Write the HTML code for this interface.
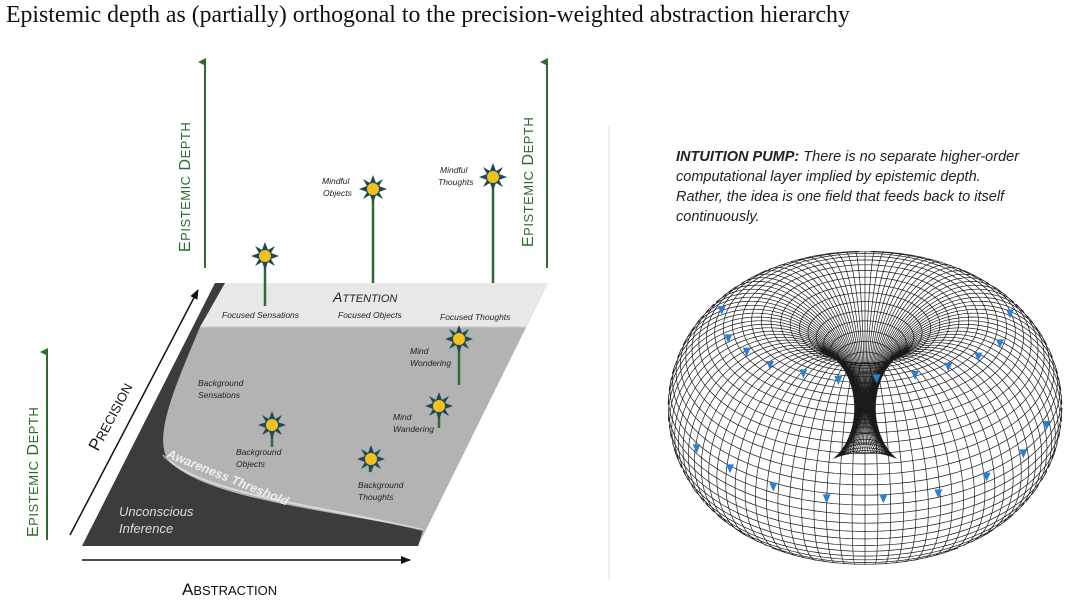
<!DOCTYPE html>
<html><head><meta charset="utf-8"><style>
body{margin:0;width:1080px;height:606px;background:#fff;overflow:hidden;font-family:"Liberation Sans",sans-serif}
</style></head><body>
<svg width="1080" height="606" viewBox="0 0 1080 606" xmlns="http://www.w3.org/2000/svg">
<defs>
<marker id="ga" markerWidth="8" markerHeight="8" refX="4" refY="7" orient="auto-start-reverse" markerUnits="userSpaceOnUse"><path d="M0,8 L4,0 L8,8 Z" fill="#2e6b2e"/></marker>
<marker id="ka" markerWidth="10" markerHeight="8" refX="9" refY="4" orient="auto" markerUnits="userSpaceOnUse"><path d="M0,0 L10,4 L0,8 Z" fill="#111"/></marker>
<g id="star"><path d="M0,-14 L3,-6 L10,-10 L6,-3 L14,0 L6,3 L10,10 L3,6 L0,14 L-3,6 L-10,10 L-6,3 L-14,0 L-6,-3 L-10,-10 L-3,-6 Z" fill="#1f4a55"/><circle r="6.5" fill="#f2c11b" stroke="#1f4a55" stroke-width="1"/></g>
</defs>
<text x="6" y="22" font-family="Liberation Serif,serif" font-size="23.8" fill="#111">Epistemic depth as (partially) orthogonal to the precision-weighted abstraction hierarchy</text>

<path d="M215,283 L548,283 L418,546 L82,546 Z" fill="#b3b3b3"/>
<path d="M215,283 L548,283 L526,327 L200,327 Z" fill="#e8e8e8"/>
<path d="M215,283 L225,283 L200,327 C178,380 150,440 170,462 C210,500 330,510 423,530 L418,546 L82,546 Z" fill="#3c3c3c"/>
<path d="M163,455 C200,495 320,505 423,530" stroke="#fff" stroke-width="2" fill="none" opacity="0.5"/>
<line x1="200" y1="327" x2="526" y2="327" stroke="#ccc" stroke-width="1"/>

<line x1="205" y1="268" x2="205" y2="62" stroke="#2e6b2e" stroke-width="2" marker-end="url(#ga)"/>
<line x1="547" y1="268" x2="547" y2="62" stroke="#2e6b2e" stroke-width="2" marker-end="url(#ga)"/>
<line x1="47" y1="540" x2="47" y2="352" stroke="#2e6b2e" stroke-width="2" marker-end="url(#ga)"/>
<g fill="#2e6b2e" font-size="16" letter-spacing="0.5">
<text transform="translate(190,252) rotate(-90)">E<tspan font-size="13">PISTEMIC</tspan> D<tspan font-size="13">EPTH</tspan></text>
<text transform="translate(533,247) rotate(-90)">E<tspan font-size="13">PISTEMIC</tspan> D<tspan font-size="13">EPTH</tspan></text>
<text transform="translate(38,537) rotate(-90)">E<tspan font-size="13">PISTEMIC</tspan> D<tspan font-size="13">EPTH</tspan></text>
</g>
<line x1="70" y1="535" x2="198" y2="290" stroke="#111" stroke-width="1.5" marker-end="url(#ka)"/>
<line x1="82" y1="560" x2="410" y2="560" stroke="#111" stroke-width="1.5" marker-end="url(#ka)"/>
<text transform="translate(98,452) rotate(-62)" font-size="17" fill="#111">P<tspan font-size="13">RECISION</tspan></text>
<text x="182" y="595" font-size="17" fill="#111">A<tspan font-size="13">BSTRACTION</tspan></text>

<g stroke="#2e6b2e" stroke-width="2.5">
<line x1="265" y1="256" x2="265" y2="306"/><line x1="373" y1="190" x2="373" y2="283"/>
<line x1="493" y1="178" x2="493" y2="283"/><line x1="459" y1="340" x2="459" y2="385"/>
<line x1="439" y1="406" x2="439" y2="428"/><line x1="272" y1="425" x2="272" y2="447"/>
<line x1="370" y1="459" x2="370" y2="472"/>
</g>
<use href="#star" x="265" y="256"/><use href="#star" x="373" y="189"/><use href="#star" x="493" y="177"/>
<use href="#star" x="459" y="339"/><use href="#star" x="439" y="406"/><use href="#star" x="272" y="425"/><use href="#star" x="371" y="459"/>

<g font-style="italic" font-size="8.5" fill="#222">
<text x="322" y="184">Mindful</text><text x="323" y="196">Objects</text>
<text x="440" y="173">Mindful</text><text x="438" y="185">Thoughts</text>
<text x="222" y="318">Focused Sensations</text><text x="338" y="318">Focused Objects</text><text x="440" y="320">Focused Thoughts</text>
<text x="410" y="354">Mind</text><text x="410" y="366">Wondering</text>
<text x="393" y="420">Mind</text><text x="393" y="432">Wandering</text>
<text x="198" y="386">Background</text><text x="198" y="398">Sensations</text>
<text x="236" y="455">Background</text><text x="236" y="467">Objects</text>
<text x="358" y="488">Background</text><text x="358" y="500">Thoughts</text>
</g>
<text x="333" y="302" font-style="italic" font-size="14" fill="#222">A<tspan font-size="11">TTENTION</tspan></text>
<text transform="translate(166,457) rotate(22)" font-style="italic" font-weight="bold" font-size="12.5" fill="#eee">Awareness Threshold</text>
<text x="119" y="516" font-style="italic" font-size="13" fill="#ddd">Unconscious</text>
<text x="119" y="533" font-style="italic" font-size="13" fill="#ddd">Inference</text>

<line x1="609" y1="125" x2="609" y2="580" stroke="#ddd" stroke-width="1"/>

<g font-style="italic" font-size="14.5" fill="#222">
<text x="676" y="161"><tspan font-weight="bold">INTUITION PUMP:</tspan>  There is no separate higher-order</text>
<text x="676" y="181">computational layer implied by epistemic depth.</text>
<text x="676" y="201">Rather, the idea is one field that feeds back to itself</text>
<text x="676" y="221">continuously.</text>
</g>
<g id="torus" fill="none" stroke="#1a1a1a" stroke-width="0.7"></g>
<g id="arr" fill="#2f7fcf"></g>
</svg>
<script>
(function(){
var g=document.getElementById('torus'),R=1,r=0.9,e=30*Math.PI/180,ce=Math.cos(e),se=Math.sin(e),S=197/1.9,cx=865,cy=408,ys=1.08;
var d=[0,-ce,se];
function P(u,v){var c=R+r*Math.cos(v);var x=c*Math.cos(u),y=c*Math.sin(u),z=r*Math.sin(v);
var n=[Math.cos(v)*Math.cos(u),Math.cos(v)*Math.sin(u),Math.sin(v)];
var vis=n[0]*d[0]+n[1]*d[1]+n[2]*d[2];
var Y=z*ce+y*se;
return [cx+S*x,cy-S*ys*Y,vis];}
var s='';var NU=96,NV=60,steps=160;
function line(fu){var str='',on=false;for(var k=0;k<=steps;k++){var p=fu(k/steps);if(p[2]>0){str+=(on?'L':'M')+p[0].toFixed(1)+','+p[1].toFixed(1);on=true;}else on=false;}return str;}
for(var i=0;i<NU;i++){var u=i/NU*2*Math.PI;s+=line(function(t){return P(u,t*2*Math.PI);});}
for(var j=0;j<NV;j++){var v=j/NV*2*Math.PI;s+=line(function(t){return P(t*2*Math.PI,v);});}
var p=document.createElementNS('http://www.w3.org/2000/svg','path');p.setAttribute('d',s);g.appendChild(p);
var a=document.getElementById('arr');
var pts=[[185,210],[205,295],[260,335],[330,375],[430,400],[535,420],[650,415],[765,405],[865,380],[955,350],[1020,310],[1050,220],[110,625],[210,685],[340,740],[500,775],[670,775],[835,760],[980,710],[1090,640],[1160,555]];
pts.forEach(function(q){var x=660+q[0]/3,y=240+q[1]/3;var t=document.createElementNS('http://www.w3.org/2000/svg','path');t.setAttribute('d','M'+(x-4)+','+(y-4)+'L'+(x+4)+','+(y-4)+'L'+x+','+(y+5)+'Z');a.appendChild(t);});
})();
</script>
</body></html>
